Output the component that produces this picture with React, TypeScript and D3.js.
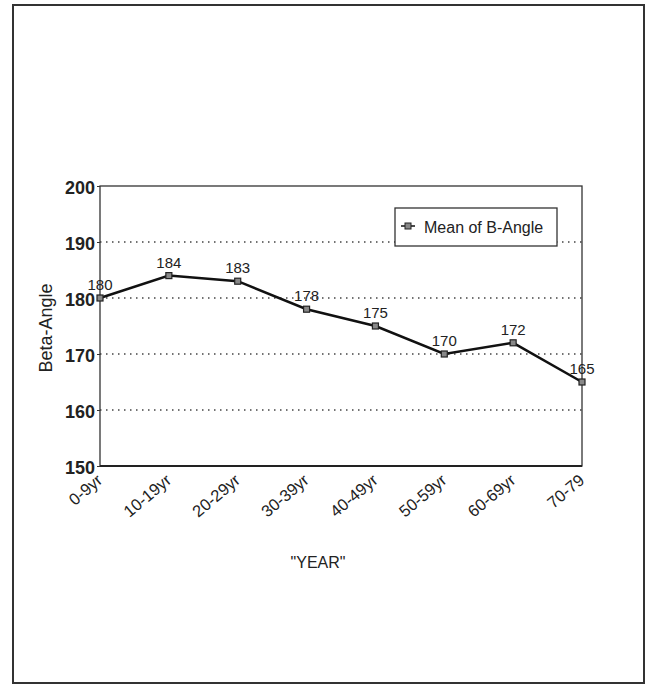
import React, { useRef, useEffect } from 'react';
import * as d3 from 'd3';

const ageGroups = ['0-9yr', '10-19yr', '20-29yr', '30-39yr', '40-49yr', '50-59yr', '60-69yr', '70-79'];
const meanBetaAngle = [180, 184, 183, 178, 175, 170, 172, 165];
const yTicks = [150, 160, 170, 180, 190, 200];
const gridValues = [160, 170, 180, 190];
const seriesName = 'Mean of B-Angle';

const FONT = '"Liberation Sans", Arial, sans-serif';

const BetaAngleChart: React.FC = () => {
  const svgRef = useRef<SVGSVGElement>(null);

  useEffect(() => {
    if (!svgRef.current) return;
    document.body.style.margin = '0';

    const width = 650;
    const height = 686;
    const svg = d3.select(svgRef.current);
    svg.selectAll('*').remove();
    svg.attr('width', width).attr('height', height);

    svg.append('rect').attr('width', width).attr('height', height).attr('fill', '#fff');

    // page frame
    svg.append('rect')
      .attr('x', 13).attr('y', 5)
      .attr('width', 631).attr('height', 678)
      .attr('fill', 'none')
      .attr('stroke', '#333')
      .attr('stroke-width', 2);

    const left = 100, right = 582, top = 186, bottom = 466;

    const x = d3.scalePoint<string>().domain(ageGroups).range([left, right]);
    const y = d3.scaleLinear().domain([150, 200]).range([bottom, top]);

    // dotted grid
    svg.append('g')
      .selectAll('line')
      .data(gridValues)
      .enter().append('line')
      .attr('x1', left).attr('x2', right)
      .attr('y1', d => y(d)).attr('y2', d => y(d))
      .attr('stroke', '#444')
      .attr('stroke-width', 1.3)
      .attr('stroke-dasharray', '1.5,4.5');

    // plot frame
    svg.append('rect')
      .attr('x', left).attr('y', top)
      .attr('width', right - left).attr('height', bottom - top)
      .attr('fill', 'none')
      .attr('stroke', '#333')
      .attr('stroke-width', 1.3);
    svg.append('line')
      .attr('x1', left).attr('x2', right)
      .attr('y1', bottom).attr('y2', bottom)
      .attr('stroke', '#222').attr('stroke-width', 2);

    // y axis
    const yAxis = svg.append('g')
      .attr('transform', `translate(${left},0)`)
      .call(d3.axisLeft(y).tickValues(yTicks).tickSize(3).tickPadding(2).tickFormat(d3.format('d')));
    yAxis.select('.domain').remove();
    yAxis.selectAll('line').attr('stroke', '#333');
    yAxis.selectAll('text')
      .attr('font-family', FONT)
      .attr('font-size', 18)
      .attr('font-weight', 'bold')
      .attr('dy', '0.42em')
      .attr('fill', '#222');

    // x axis
    const xAxis = svg.append('g')
      .attr('transform', `translate(0,${bottom})`)
      .call(d3.axisBottom(x).tickSize(0).tickPadding(0));
    xAxis.select('.domain').remove();
    xAxis.selectAll('text')
      .attr('font-family', FONT)
      .attr('font-size', 16.5)
      .attr('fill', '#222')
      .attr('text-anchor', 'end')
      .attr('dy', null)
      .attr('y', 0)
      .attr('transform', 'translate(3,16) rotate(-40)');

    // axis titles
    svg.append('text')
      .attr('transform', `translate(52,${(top + bottom) / 2 + 2}) rotate(-90)`)
      .attr('text-anchor', 'middle')
      .attr('font-family', FONT)
      .attr('font-size', 18)
      .attr('fill', '#222')
      .text('Beta-Angle');

    svg.append('text')
      .attr('x', 318).attr('y', 568)
      .attr('text-anchor', 'middle')
      .attr('font-family', FONT)
      .attr('font-size', 16)
      .attr('fill', '#222')
      .text('"YEAR"');

    // series line
    const points = ageGroups.map((g, i) => ({ g, v: meanBetaAngle[i] }));
    const line = d3.line<{ g: string; v: number }>()
      .x(d => x(d.g) as number)
      .y(d => y(d.v));

    svg.append('path')
      .datum(points)
      .attr('d', line)
      .attr('fill', 'none')
      .attr('stroke', '#111')
      .attr('stroke-width', 2.5);

    svg.append('g')
      .selectAll('rect')
      .data(points)
      .enter().append('rect')
      .attr('x', d => (x(d.g) as number) - 3)
      .attr('y', d => y(d.v) - 3)
      .attr('width', 6).attr('height', 6)
      .attr('fill', '#888')
      .attr('stroke', '#222')
      .attr('stroke-width', 1.2);

    svg.append('g')
      .selectAll('text')
      .data(points)
      .enter().append('text')
      .attr('x', d => x(d.g) as number)
      .attr('y', d => y(d.v) - 8)
      .attr('text-anchor', 'middle')
      .attr('font-family', FONT)
      .attr('font-size', 15)
      .attr('fill', '#222')
      .text(d => d.v);

    // legend
    const lg = svg.append('g').attr('transform', 'translate(395,208)');
    lg.append('rect')
      .attr('width', 162).attr('height', 38)
      .attr('fill', '#fff')
      .attr('stroke', '#333')
      .attr('stroke-width', 1.3);
    lg.append('line')
      .attr('x1', 6).attr('x2', 20)
      .attr('y1', 18).attr('y2', 18)
      .attr('stroke', '#111').attr('stroke-width', 1.5);
    lg.append('rect')
      .attr('x', 10).attr('y', 15)
      .attr('width', 6).attr('height', 6)
      .attr('fill', '#888').attr('stroke', '#222');
    lg.append('text')
      .attr('x', 29).attr('y', 25)
      .attr('font-family', FONT)
      .attr('font-size', 16)
      .attr('fill', '#222')
      .text(seriesName);
  }, []);

  return <svg ref={svgRef}></svg>;
};

export default function App() {
  return <BetaAngleChart />;
}
